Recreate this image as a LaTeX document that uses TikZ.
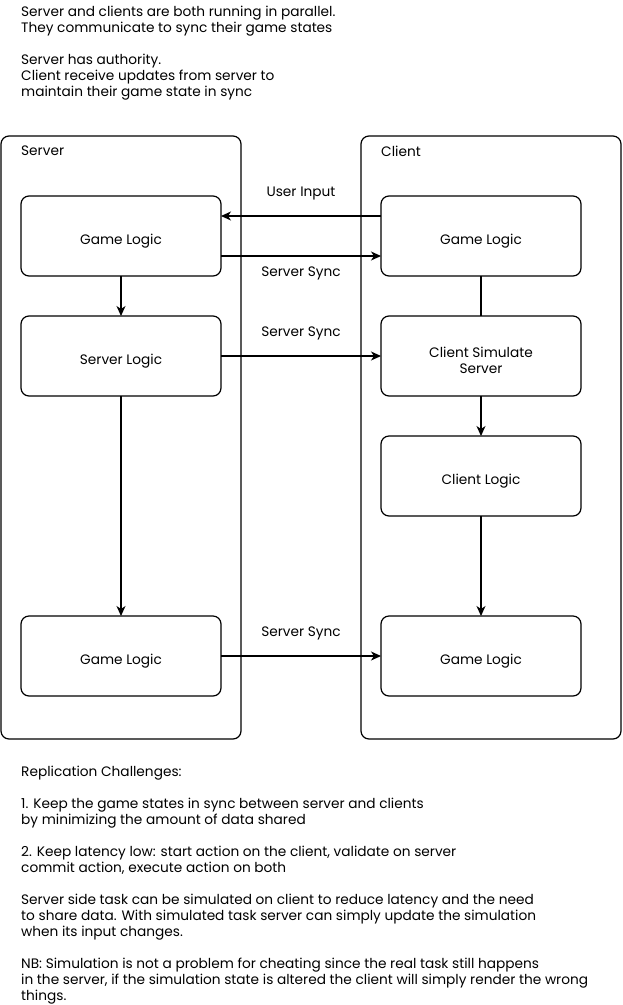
\documentclass[tikz,border=0pt]{standalone}
\usepackage{fontspec}
\setmainfont{Poppins}
\usetikzlibrary{positioning,arrows.meta}
\tikzset{
  lane/.style={draw=black, line width=1.2pt, rounded corners=8pt, minimum height=603pt, anchor=north west, inner sep=0pt, outer sep=0pt},
  tag/.style={anchor=west, inner sep=0pt, font=\fontsize{13.7}{16}\selectfont},
  block/.style={draw=black, line width=1.2pt, rounded corners=8pt, minimum width=200pt, minimum height=80pt, align=center, outer sep=0pt, text height=17.6pt, text depth=0pt, font=\fontsize{13.7}{16}\selectfont},
  note/.style={anchor=north west, align=left, inner sep=0pt, font=\fontsize{13.7}{16}\selectfont},
  link/.style={line width=1.2pt, -{Stealth[length=10pt,width=9pt,inset=3pt]}},
  lbl/.style={midway, font=\fontsize{13.7}{16}\selectfont}
}
\begin{document}
\begin{tikzpicture}[x=1pt,y=-1pt]
\useasboundingbox (0,0) rectangle (622,1005);

\node[note] (intro) at (21,6) {Server and clients are both running in parallel.\\They communicate to sync their game states\\[16pt]Server has authority.\\Client receive updates from server to\\maintain their game state in sync};

% the two sides
\node[lane, minimum width=240pt] (server) at (1,136) {};
\node[lane, minimum width=260pt] (client) at (361,136) {};
\node[tag] (serverlbl) at (21,151) {Server};
\node[tag] (clientlbl) at (381,151) {Client};

\node[block] (sgame) at (121,236) {Game Logic};
\node[block, below=40pt of sgame] (slogic) {Server Logic};
\node[block] (sgame2) at (121,656) {Game Logic};

\node[block] (cgame) at (481,236) {Game Logic};
\node[block, below=40pt of cgame, text height=35.6pt] (csim) {Client Simulate\\Server};
\node[block, below=40pt of csim] (clogic) {Client Logic};
\node[block] (cgame2) at (481,656) {Game Logic};

\draw[link] ([yshift=20pt]cgame.west) -- node[lbl, yshift=23pt] (uinput) {User Input} ([yshift=20pt]sgame.east);
\draw[link] ([yshift=-20pt]sgame.east) -- node[lbl, yshift=-17pt] (sync1) {Server Sync} ([yshift=-20pt]cgame.west);
\draw[link] (sgame) -- (slogic);
\draw[link] (slogic) -- node[lbl, yshift=23pt] (sync2) {Server Sync} (csim);
\draw[link] (slogic) -- (sgame2);
\draw[line width=1.2pt] (cgame) -- (csim);
\draw[link] (csim) -- (clogic);
\draw[link] (clogic) -- (cgame2);
\draw[link] (sgame2) -- node[lbl, yshift=23pt] (sync3) {Server Sync} (cgame2);

\node[note] (challenges) at (21,766) {Replication Challenges:\\[16pt]1. Keep the game states in sync between server and clients\\by minimizing the amount of data shared\\[16pt]2. Keep latency low: start action on the client, validate on server\\commit action, execute action on both\\[16pt]Server side task can be simulated on client to reduce latency and the need\\to share data. With simulated task server can simply update the simulation\\when its input changes.\\[16pt]NB: Simulation is not a problem for cheating since the real task still happens\\in the server, if the simulation state is altered the client will simply render the wrong\\things.};
\end{tikzpicture}
\end{document}
